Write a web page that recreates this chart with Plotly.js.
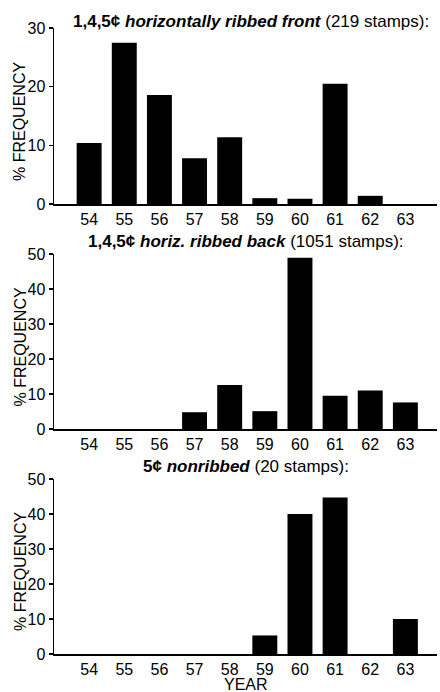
<!DOCTYPE html>
<html>
<head>
<meta charset="utf-8">
<script src="https://cdn.plot.ly/plotly-3.0.1.min.js"></script>
<style>html,body{margin:0;padding:0;background:#fff;}#chart{width:440px;height:692px;}</style>
</head>
<body>
<div id="chart"></div>
<script>
const years = ["54","55","56","57","58","59","60","61","62","63"];
const ribbedFront = [10.4, 27.5, 18.6, 7.8, 11.4, 1.0, 0.9, 20.5, 1.4, 0];
const ribbedBack = [0, 0, 0, 4.8, 12.6, 5.1, 48.9, 9.5, 11.0, 7.6];
const nonribbed = [0, 0, 0, 0, 0, 5.3, 40.0, 44.7, 0, 10.0];
const panelTitles = [
  "<b>1,4,5¢ <i>horizontally ribbed front</i></b> (219 stamps):",
  "<b>1,4,5¢ <i>horiz. ribbed back</i></b> (1051 stamps):",
  "<b>5¢ <i>nonribbed</i></b> (20 stamps):"
];
const yMax = [30, 50, 50];
const yTicks = [[0,10,20,30],[0,10,20,30,40,50],[0,10,20,30,40,50]];
const yTitle = "% FREQUENCY";
const xTitle = "YEAR";

const FONT = "Liberation Sans, Arial, Helvetica, sans-serif";
const TICK = 16, TITLE = 17, AXT = 16;
const series = [ribbedFront, ribbedBack, nonribbed];
const axisSuffix = ["", "2", "3"];
const domains = [[0.7188, 1], [0.3594, 0.639], [0, 0.2796]];
const titleY = [1.0096, 0.6586, 0.2992];
const titleX = [0.514, 0.501, 0.501];
const yTitleY = [(654-122)/626, (654-347.5)/626, (654-572)/626];

const data = series.map((vals, i) => ({
  type: "bar",
  x: years,
  y: vals,
  xaxis: "x" + axisSuffix[i],
  yaxis: "y" + axisSuffix[i],
  marker: {color: "#000", line: {width: 0}},
  hoverinfo: "skip"
}));

const layout = {
  width: 440, height: 692,
  margin: {l: 54, r: 3, t: 28, b: 38},
  paper_bgcolor: "#fff", plot_bgcolor: "#fff",
  showlegend: false,
  bargap: 0.29,
  font: {family: FONT, size: TICK, color: "#000"},
  annotations: []
};

for (let i = 0; i < 3; i++) {
  const s = axisSuffix[i];
  layout["xaxis" + s] = {
    type: "category",
    range: [-1, 9.9],
    anchor: "y" + s,
    domain: [0, 1],
    showline: true, linecolor: "#000", linewidth: 1.5,
    showgrid: false, zeroline: false,
    ticks: "", ticklen: 0,
    tickfont: {family: FONT, size: TICK, color: "#000"},
    fixedrange: true
  };
  layout["yaxis" + s] = {
    range: [0, yMax[i]],
    domain: domains[i],
    anchor: "x" + s,
    tickmode: "array", tickvals: yTicks[i], ticktext: yTicks[i].map(String),
    showline: true, linecolor: "#000", linewidth: 1.5,
    showgrid: false, zeroline: false,
    ticks: "outside", ticklen: 4, tickwidth: 1.5, tickcolor: "#000",
    tickfont: {family: FONT, size: TICK, color: "#000"},
    fixedrange: true
  };
  layout.annotations.push({
    text: panelTitles[i], xref: "paper", yref: "paper",
    x: titleX[i], y: titleY[i], xanchor: "center", yanchor: "middle",
    showarrow: false, font: {family: FONT, size: TITLE, color: "#000"}
  });
  layout.annotations.push({
    text: yTitle, xref: "paper", yref: "paper",
    x: (20-54)/383, y: yTitleY[i], xanchor: "center", yanchor: "middle",
    textangle: -90,
    showarrow: false, font: {family: FONT, size: AXT, color: "#000"}
  });
}
layout.annotations.push({
  text: xTitle, xref: "paper", yref: "paper",
  x: 0.5, y: (654-684)/626, xanchor: "center", yanchor: "middle",
  showarrow: false, font: {family: FONT, size: AXT, color: "#000"}
});

Plotly.newPlot("chart", data, layout, {displayModeBar: false, staticPlot: true});
</script>
</body>
</html>
